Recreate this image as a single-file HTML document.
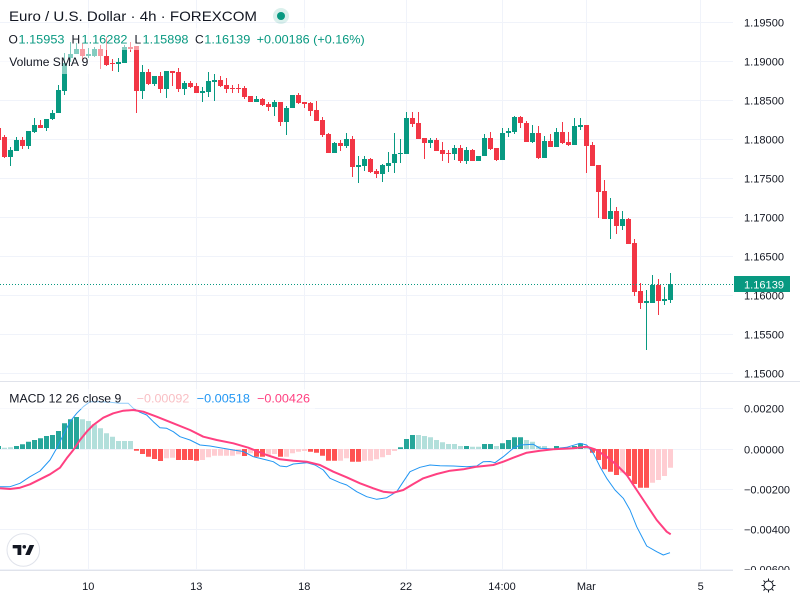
<!DOCTYPE html>
<html><head><meta charset="utf-8"><style>
html,body{margin:0;padding:0;background:#fff;}
svg{display:block;font-family:"Liberation Sans",Arial,sans-serif;}
</style></head><body>
<svg width="800" height="600" viewBox="0 0 800 600" xmlns="http://www.w3.org/2000/svg">
<rect width="800" height="600" fill="#fff"/>
<defs><clipPath id="pl"><rect x="0" y="0" width="733" height="381"/></clipPath>
<clipPath id="ml"><rect x="0" y="382" width="733" height="188"/></clipPath>
<clipPath id="ax"><rect x="734" y="382" width="66" height="188"/></clipPath></defs>
<!-- grid -->
<g stroke="#F0F3FA" stroke-width="1">
<path d="M0 22.5H733M0 61.5H733M0 100.5H733M0 139.5H733M0 178.5H733M0 217.5H733M0 256.5H733M0 295.5H733M0 334.5H733M0 373.5H733"/>
<path d="M0 408.5H733M0 449.5H733M0 489.5H733M0 529.5H733M0 569.5H733"/>
<path d="M88.5 0V570M196.5 0V570M304.5 0V570M406.5 0V570M502.5 0V570M586.5 0V570M700.5 0V570"/>
</g>
<!-- candles -->
<g clip-path="url(#pl)">
<path fill="#F23645" d="M-4 128h5v12h-5z M-2 126h1v16h-1z M2 137h5v20h-5z M4 135h1v23h-1z M20 140h5v6h-5z M22 137h1v12h-1z M38 125h5v3h-5z M40 120h1v8h-1z M80 49h5v7h-5z M82 43h1v18h-1z M98 49h5v7h-5z M100 45h1v24h-1z M104 56h5v9h-5z M106 37h1v29h-1z M110 63h5v1h-5z M112 59h1v12h-1z M128 47h5v2h-5z M130 42h1v10h-1z M134 46h5v45h-5z M136 46h1v67h-1z M146 72h5v12h-5z M148 69h1v16h-1z M158 76h5v13h-5z M160 72h1v21h-1z M170 71h5v2h-5z M172 71h1v15h-1z M176 72h5v17h-5z M178 68h1v24h-1z M188 83h5v4h-5z M190 81h1v7h-1z M194 86h5v7h-5z M196 83h1v10h-1z M218 80h5v6h-5z M220 76h1v11h-1z M224 85h5v4h-5z M226 78h1v15h-1z M230 88h5v1h-5z M232 85h1v8h-1z M236 88h5v1h-5z M238 84h1v9h-1z M242 88h5v9h-5z M244 86h1v13h-1z M248 96h5v6h-5z M260 99h5v6h-5z M262 98h1v8h-1z M266 104h5v3h-5z M268 102h1v9h-1z M278 102h5v20h-5z M280 102h1v24h-1z M296 95h5v8h-5z M298 93h1v11h-1z M302 102h5v2h-5z M304 102h1v6h-1z M308 103h5v8h-5z M310 102h1v14h-1z M314 110h5v11h-5z M316 101h1v20h-1z M320 120h5v15h-5z M322 117h1v20h-1z M326 134h5v19h-5z M328 133h1v20h-1z M338 143h5v3h-5z M340 140h1v11h-1z M350 139h5v28h-5z M352 136h1v41h-1z M368 159h5v13h-5z M370 158h1v15h-1z M374 171h5v3h-5z M376 169h1v9h-1z M410 118h5v6h-5z M412 112h1v15h-1z M416 123h5v16h-5z M418 112h1v27h-1z M422 138h5v5h-5z M424 138h1v21h-1z M434 140h5v11h-5z M436 138h1v13h-1z M440 150h5v4h-5z M442 142h1v19h-1z M446 153h5v1h-5z M448 150h1v13h-1z M458 148h5v13h-5z M460 145h1v18h-1z M470 150h5v11h-5z M472 149h1v12h-1z M488 138h5v11h-5z M490 132h1v18h-1z M494 148h5v12h-5z M496 148h1v13h-1z M518 117h5v6h-5z M520 116h1v12h-1z M524 123h5v19h-5z M526 121h1v21h-1z M536 133h5v25h-5z M538 126h1v33h-1z M548 141h5v6h-5z M550 134h1v13h-1z M560 132h5v11h-5z M562 122h1v22h-1z M566 142h5v3h-5z M568 132h1v14h-1z M584 125h5v21h-5z M586 125h1v48h-1z M590 145h5v21h-5z M592 142h1v24h-1z M596 165h5v27h-5z M598 165h1v53h-1z M602 191h5v28h-5z M604 180h1v39h-1z M614 211h5v15h-5z M616 207h1v27h-1z M626 219h5v25h-5z M628 218h1v26h-1z M632 243h5v49h-5z M634 239h1v57h-1z M638 291h5v12h-5z M640 283h1v26h-1z M656 285h5v16h-5z M658 279h1v36h-1z"/>
<path fill="#089981" d="M8 150h5v7h-5z M10 147h1v19h-1z M14 140h5v11h-5z M16 137h1v14h-1z M26 131h5v15h-5z M28 131h1v18h-1z M32 125h5v7h-5z M34 118h1v15h-1z M44 119h5v9h-5z M46 119h1v12h-1z M50 113h5v6h-5z M52 110h1v10h-1z M56 90h5v23h-5z M58 85h1v28h-1z M62 63h5v28h-5z M64 53h1v42h-1z M68 54h5v4h-5z M70 42h1v20h-1z M74 49h5v5h-5z M76 43h1v11h-1z M86 54h5v2h-5z M88 48h1v10h-1z M92 49h5v7h-5z M94 47h1v10h-1z M116 62h5v2h-5z M118 58h1v14h-1z M122 47h5v16h-5z M124 45h1v18h-1z M140 72h5v19h-5z M142 65h1v34h-1z M152 76h5v8h-5z M154 76h1v10h-1z M164 71h5v18h-5z M166 71h1v27h-1z M182 83h5v6h-5z M184 81h1v14h-1z M200 91h5v2h-5z M202 87h1v15h-1z M206 81h5v11h-5z M208 72h1v25h-1z M212 80h5v2h-5z M214 74h1v27h-1z M254 99h5v3h-5z M256 96h1v6h-1z M272 102h5v5h-5z M274 100h1v16h-1z M284 108h5v14h-5z M286 106h1v29h-1z M290 95h5v13h-5z M332 143h5v10h-5z M334 142h1v11h-1z M344 139h5v7h-5z M346 133h1v15h-1z M356 165h5v2h-5z M358 156h1v27h-1z M362 159h5v7h-5z M364 156h1v15h-1z M380 165h5v9h-5z M382 164h1v18h-1z M386 163h5v3h-5z M388 152h1v20h-1z M392 154h5v9h-5z M394 133h1v40h-1z M398 153h5v1h-5z M400 139h1v24h-1z M404 118h5v36h-5z M406 112h1v42h-1z M428 140h5v3h-5z M430 138h1v10h-1z M452 148h5v6h-5z M454 145h1v15h-1z M464 150h5v11h-5z M466 147h1v17h-1z M476 156h5v5h-5z M482 138h5v18h-5z M484 134h1v22h-1z M500 133h5v27h-5z M502 128h1v32h-1z M506 131h5v2h-5z M508 128h1v9h-1z M512 117h5v15h-5z M514 116h1v18h-1z M530 133h5v9h-5z M532 125h1v18h-1z M542 141h5v17h-5z M544 136h1v22h-1z M554 132h5v15h-5z M556 128h1v19h-1z M572 126h5v19h-5z M574 118h1v27h-1z M578 125h5v2h-5z M580 118h1v12h-1z M608 211h5v8h-5z M610 198h1v41h-1z M620 219h5v7h-5z M622 211h1v19h-1z M644 301h5v2h-5z M646 290h1v60h-1z M650 285h5v18h-5z M652 275h1v28h-1z M662 299h5v2h-5z M664 287h1v18h-1z M668 284h5v16h-5z M670 273h1v30h-1z"/>
</g>
<!-- current price dotted line -->
<line x1="0" y1="284.5" x2="733" y2="284.5" stroke="#089981" stroke-width="1" stroke-dasharray="1,2"/>
<!-- MACD histogram -->
<g clip-path="url(#ml)">
<path fill="#26A69A" d="M-4 446h5V449h-5z M14 446h5V449h-5z M20 444.3h5V449h-5z M26 441.7h5V449h-5z M32 440h5V449h-5z M38 438.3h5V449h-5z M44 436h5V449h-5z M50 435h5V449h-5z M56 431h5V449h-5z M62 423.3h5V449h-5z M68 419.3h5V449h-5z M74 417h5V449h-5z M398 447.3h5V449h-5z M404 439h5V449h-5z M410 435h5V449h-5z M464 446h5V449h-5z M482 444h5V449h-5z M488 444h5V449h-5z M500 443.3h5V449h-5z M506 440h5V449h-5z M512 437.3h5V449h-5z M518 437.3h5V449h-5z M554 446h5V449h-5z M572 446h5V449h-5z M578 443.3h5V449h-5z"/>
<path fill="#B2DFDB" d="M2 447.7h5V449h-5z M8 447.3h5V449h-5z M80 419.3h5V449h-5z M86 421h5V449h-5z M92 424.3h5V449h-5z M98 428.3h5V449h-5z M104 433.3h5V449h-5z M110 436.7h5V449h-5z M116 441h5V449h-5z M122 441h5V449h-5z M128 441h5V449h-5z M416 435h5V449h-5z M422 436h5V449h-5z M428 437.3h5V449h-5z M434 440h5V449h-5z M440 442.3h5V449h-5z M446 444h5V449h-5z M452 444h5V449h-5z M458 446h5V449h-5z M470 446.7h5V449h-5z M476 446.7h5V449h-5z M494 446h5V449h-5z M524 440h5V449h-5z M530 441.7h5V449h-5z M536 446h5V449h-5z M542 446h5V449h-5z M548 448.3h5V449h-5z M560 447.3h5V449h-5z M566 447.3h5V449h-5z M584 446h5V449h-5z"/>
<path fill="#FF5252" d="M134 449h5V450.7h-5z M140 449h5V454h-5z M146 449h5V456.7h-5z M152 449h5V459h-5z M158 449h5V461h-5z M176 449h5V460h-5z M182 449h5V460h-5z M188 449h5V460h-5z M194 449h5V460.7h-5z M242 449h5V456h-5z M254 449h5V456.7h-5z M260 449h5V456.7h-5z M278 449h5V456.7h-5z M308 449h5V451.7h-5z M314 449h5V452.7h-5z M320 449h5V455.7h-5z M326 449h5V460.7h-5z M332 449h5V460.7h-5z M350 449h5V461.7h-5z M356 449h5V461.7h-5z M590 449h5V452.7h-5z M596 449h5V460h-5z M602 449h5V469.3h-5z M608 449h5V471.7h-5z M614 449h5V475h-5z M626 449h5V476h-5z M632 449h5V484h-5z M638 449h5V487.7h-5z M644 449h5V487.7h-5z"/>
<path fill="#FFCDD2" d="M164 449h5V458.3h-5z M170 449h5V457.7h-5z M200 449h5V460h-5z M206 449h5V457.3h-5z M212 449h5V455.7h-5z M218 449h5V455.7h-5z M224 449h5V455.7h-5z M230 449h5V455.7h-5z M236 449h5V454.3h-5z M248 449h5V453.3h-5z M266 449h5V455h-5z M272 449h5V454h-5z M284 449h5V456.7h-5z M290 449h5V453.3h-5z M296 449h5V451.7h-5z M302 449h5V451h-5z M338 449h5V460.7h-5z M344 449h5V458.3h-5z M362 449h5V460.7h-5z M368 449h5V460.7h-5z M374 449h5V459.3h-5z M380 449h5V457.3h-5z M386 449h5V455h-5z M392 449h5V451h-5z M620 449h5V472.7h-5z M650 449h5V482.7h-5z M656 449h5V480h-5z M662 449h5V476h-5z M668 449h5V467.7h-5z"/>
<polyline fill="none" stroke="#2196F3" stroke-width="1" stroke-linejoin="round" points="0,486.7 10,486.7 20,483.3 30,476.7 40,471 50,460 56.7,448.3 63.3,435 70,421.7 76.7,413.3 83.3,406.7 90,401.7 100,401.7 110,402.3 120,403.3 128.3,403.3 133.3,408.3 140,412.3 146.7,415 153.3,421.7 160,427.7 166.7,428.3 173.3,431.7 180,436.7 190,440 200,445 210,446 220,447.7 233.3,450 243.3,451.5 253.3,456.7 266.7,460 273.3,461.7 280,466 286.7,466.7 293.3,464 306.7,462.7 315,465 323.3,470 330,478.3 340,482.7 346.7,485 356.7,491.7 366.7,496.7 376.7,499.3 386.7,497.7 396.7,491.7 403.3,481.7 410,471.7 420,467.3 430,465 440,465.7 453.3,466 466.7,466.7 476.7,466 483.3,461.7 490,461.5 495,462.7 503.3,456.7 513.3,448.3 520,445 533.3,444.3 540,448.3 553.3,449 566.7,447.3 580,443.3 586.7,445 593.3,453.3 600,466.7 606.7,478.3 615,490 623.3,498.3 630,510 636.7,526.7 646.7,546 656.7,551.7 663.3,555 670,552.7"/>
<polyline fill="none" stroke="#FF4081" stroke-width="2" stroke-linejoin="round" points="0,488.3 10,489 20,487.7 30,484.3 40,479.3 50,474.3 60,467.7 66.7,458.3 73.3,450 80,440 86.7,431.7 93.3,425 103.3,417.7 113.3,413.3 123.3,410.7 133.3,410 143.3,411.7 156.7,416.7 173.3,423.3 190,430 203.3,436.7 216.7,440 233.3,443.3 248.3,447.7 266.7,455 280,459.3 293.3,460.7 306.7,461.7 320,465 333.3,471.7 346.7,477.3 360,483.3 373.3,488.3 383.3,491.7 393.3,492.7 403.3,490 413.3,484 423.3,478.3 436.7,474 450,470.7 463.3,469.3 476.7,466.7 493.3,465 503.3,461.7 513.3,457.7 526.7,452.7 540,450.7 553.3,449.3 573.3,448.3 586.7,446.7 595,449.3 606.7,456.7 616.7,465 626.7,475 636.7,490 646.7,505 656.7,520 666.7,531.7 670.7,534.3"/>
</g>
<!-- legend fades -->
<rect x="0" y="28" width="370" height="22" fill="#fff" fill-opacity="0.5"/>
<rect x="0" y="50" width="104" height="24" fill="#fff" fill-opacity="0.5"/>
<rect x="0" y="389" width="315" height="20" fill="#fff" fill-opacity="0.5"/>
<!-- legend text -->
<text x="9" y="21" font-size="14" fill="#131722" textLength="248" lengthAdjust="spacingAndGlyphs">Euro / U.S. Dollar · 4h · FOREXCOM</text>
<circle cx="281" cy="16" r="8" fill="#089981" fill-opacity="0.15"/>
<circle cx="281" cy="16" r="4" fill="#089981"/>
<g font-size="12">
<text x="8.5" y="43.5" fill="#131722">O</text>
<text x="18.5" y="43.5" fill="#089981" textLength="46" lengthAdjust="spacingAndGlyphs">1.15953</text>
<text x="71.5" y="43.5" fill="#131722">H</text>
<text x="81.5" y="43.5" fill="#089981" textLength="46" lengthAdjust="spacingAndGlyphs">1.16282</text>
<text x="134.5" y="43.5" fill="#131722">L</text>
<text x="142.5" y="43.5" fill="#089981" textLength="46" lengthAdjust="spacingAndGlyphs">1.15898</text>
<text x="195" y="43.5" fill="#131722">C</text>
<text x="204.3" y="43.5" fill="#089981" textLength="46" lengthAdjust="spacingAndGlyphs">1.16139</text>
<text x="256.7" y="43.5" fill="#089981" textLength="108" lengthAdjust="spacingAndGlyphs">+0.00186 (+0.16%)</text>
<text x="9.3" y="66" fill="#131722" textLength="79" lengthAdjust="spacingAndGlyphs">Volume SMA 9</text>
<text x="9.3" y="402.5" fill="#131722" textLength="112" lengthAdjust="spacingAndGlyphs">MACD 12 26 close 9</text>
<text x="136.7" y="402.5" fill="#F9BFC4" textLength="52.6" lengthAdjust="spacingAndGlyphs">−0.00092</text>
<text x="196.7" y="402.5" fill="#2196F3" textLength="53.3" lengthAdjust="spacingAndGlyphs">−0.00518</text>
<text x="257" y="402.5" fill="#FF4081" textLength="53" lengthAdjust="spacingAndGlyphs">−0.00426</text>
</g>
<!-- separators -->
<line x1="0" y1="381.5" x2="800" y2="381.5" stroke="#E0E3EB" stroke-width="1"/>
<line x1="0" y1="570.5" x2="733" y2="570.5" stroke="#E0E3EB" stroke-width="1"/>
<!-- price axis -->
<g font-size="11" fill="#131722">
<text x="744" y="26.5" textLength="40" lengthAdjust="spacingAndGlyphs">1.19500</text>
<text x="744" y="65.5" textLength="40" lengthAdjust="spacingAndGlyphs">1.19000</text>
<text x="744" y="104.5" textLength="40" lengthAdjust="spacingAndGlyphs">1.18500</text>
<text x="744" y="143.5" textLength="40" lengthAdjust="spacingAndGlyphs">1.18000</text>
<text x="744" y="182.5" textLength="40" lengthAdjust="spacingAndGlyphs">1.17500</text>
<text x="744" y="221.5" textLength="40" lengthAdjust="spacingAndGlyphs">1.17000</text>
<text x="744" y="260.5" textLength="40" lengthAdjust="spacingAndGlyphs">1.16500</text>
<text x="744" y="299.5" textLength="40" lengthAdjust="spacingAndGlyphs">1.16000</text>
<text x="744" y="338.5" textLength="40" lengthAdjust="spacingAndGlyphs">1.15500</text>
<text x="744" y="377.5" textLength="40" lengthAdjust="spacingAndGlyphs">1.15000</text>
<g clip-path="url(#ax)">
<text x="744" y="412.5" textLength="40" lengthAdjust="spacingAndGlyphs">0.00200</text>
<text x="744" y="453.5" textLength="40" lengthAdjust="spacingAndGlyphs">0.00000</text>
<text x="744" y="493.5" textLength="46" lengthAdjust="spacingAndGlyphs">−0.00200</text>
<text x="744" y="533.5" textLength="46" lengthAdjust="spacingAndGlyphs">−0.00400</text>
<text x="744" y="573.5" textLength="46" lengthAdjust="spacingAndGlyphs">−0.00600</text>
</g>
</g>
<rect x="734" y="276" width="56" height="16" fill="#089981"/>
<text x="744" y="288.5" font-size="11" fill="#fff" textLength="40" lengthAdjust="spacingAndGlyphs">1.16139</text>
<!-- time axis -->
<g font-size="11" fill="#131722" text-anchor="middle">
<text x="88.3" y="590">10</text>
<text x="196.3" y="590">13</text>
<text x="304.3" y="590">18</text>
<text x="406" y="590">22</text>
<text x="502" y="590">14:00</text>
<text x="586.3" y="590">Mar</text>
<text x="700.7" y="590">5</text>
</g>
<!-- gear -->
<g stroke="#131722" stroke-width="1" fill="none">
<circle cx="768.5" cy="585.5" r="4.5"/>
<path d="M768.5 578.5v2.5M768.5 590v2.5M761.5 585.5h2.5M773 585.5h2.5M763.5 580.5l1.8 1.8M771.7 588.7l1.8 1.8M763.5 590.5l1.8-1.8M771.7 582.3l1.8-1.8"/>
</g>
<!-- logo -->
<circle cx="23.3" cy="550" r="16.3" fill="#fff" stroke="#E0E3EB" stroke-width="1"/>
<g fill="#131722">
<path d="M12.7 545h8.6v10h-3.8v-6.6h-4.8z"/>
<circle cx="24.3" cy="546.8" r="1.8"/>
<path d="M29.6 545h4.6l-4.4 10h-4.6z"/>
</g>
</svg>
</body></html>
